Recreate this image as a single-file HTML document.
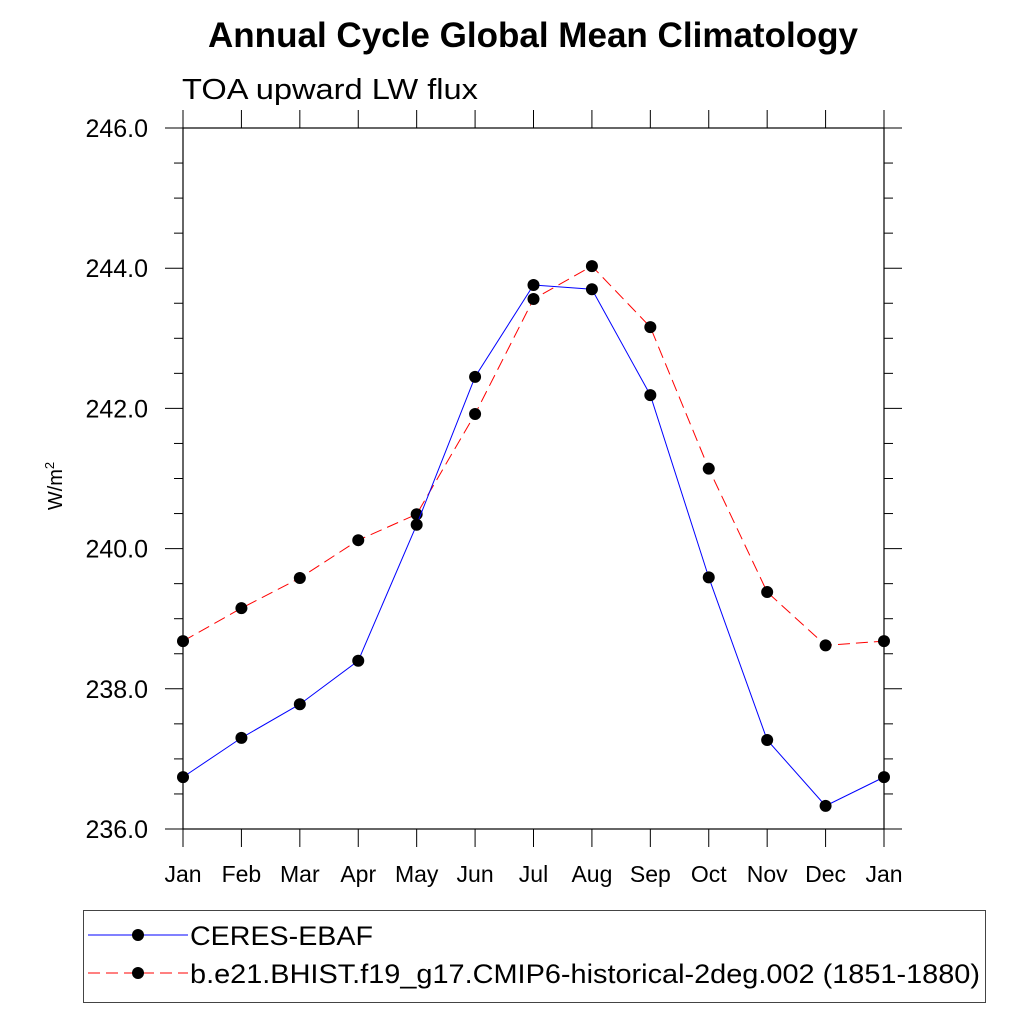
<!DOCTYPE html>
<html><head><meta charset="utf-8"><style>
body{margin:0;background:#fff}
svg{display:block;font-family:"Liberation Sans",sans-serif}
</style></head><body>
<svg id="chart" width="1024" height="1024" viewBox="0 0 1024 1024">
<text x="208" y="47" font-size="35" font-weight="bold" textLength="650" lengthAdjust="spacingAndGlyphs">Annual Cycle Global Mean Climatology</text>
<text x="182" y="99" font-size="29" textLength="296" lengthAdjust="spacingAndGlyphs">TOA upward LW flux</text>
<text transform="translate(62,486) rotate(-90)" text-anchor="middle" font-size="20">W/m<tspan font-size="13" dy="-8">2</tspan></text>
<g id="axes"></g>
<g id="series"></g>
<g>
<rect x="83.5" y="910.5" width="902" height="92" fill="none" stroke="#444" stroke-width="1"/>
<line x1="88" y1="935" x2="188" y2="935" stroke="#00f" stroke-width="1"/>
<circle cx="138" cy="935" r="6" fill="#000"/>
<text x="190" y="945" font-size="27" textLength="183" lengthAdjust="spacingAndGlyphs">CERES-EBAF</text>
<line x1="88" y1="973" x2="188" y2="973" stroke="#f00" stroke-width="1" stroke-dasharray="12,6"/>
<circle cx="138" cy="973" r="6" fill="#000"/>
<text x="190" y="983" font-size="27" textLength="790" lengthAdjust="spacingAndGlyphs">b.e21.BHIST.f19_g17.CMIP6-historical-2deg.002 (1851-1880)</text>
</g>
</svg>
<script>
const months = ["Jan","Feb","Mar","Apr","May","Jun","Jul","Aug","Sep","Oct","Nov","Dec","Jan"];
const ceres = [236.74,237.30,237.78,238.40,240.34,242.45,243.76,243.70,242.19,239.59,237.27,236.33,236.74];
const model = [238.68,239.15,239.58,240.12,240.49,241.92,243.56,244.03,243.16,241.14,239.38,238.62,238.68];
const yTicks = [236,238,240,242,244,246];
const yTickLabels = ["236.0","238.0","240.0","242.0","244.0","246.0"];

const NS="http://www.w3.org/2000/svg";
const L=183,R=884,T=128,B=829,yMin=236,yMax=246;
const xS=i=>L+(R-L)*i/(months.length-1);
const yS=v=>B-(v-yMin)/(yMax-yMin)*(B-T);
function mk(tag,attrs,parent){const e=document.createElementNS(NS,tag);for(const k in attrs)e.setAttribute(k,attrs[k]);parent.appendChild(e);return e;}
const ax=document.getElementById('axes');
let fr=mk('rect',{x:L,y:T,width:R-L,height:B-T,fill:'none',stroke:'#000','stroke-width':1.2},ax);


months.forEach((m,i)=>{
  const x=xS(i);
  let t=mk('line',{x1:x,y1:B,x2:x,y2:B+18,stroke:'#000'},ax);
  
  
  let t2=mk('line',{x1:x,y1:T,x2:x,y2:T-18,stroke:'#000'},ax);
  
  
  let lb=mk('text',{x:x,y:882,'text-anchor':'middle','font-size':23},ax);
  lb.textContent=m;
  
  
});
for(let v=yMin;v<=yMax+1e-9;v+=0.5){
  const y=yS(v),major=Math.abs(v/2-Math.round(v/2))<1e-9,len=major?18:9;
  let a=mk('line',{x1:L,y1:y,x2:L-len,y2:y,stroke:'#000'},ax);
  
  
  let b=mk('line',{x1:R,y1:y,x2:R+len,y2:y,stroke:'#000'},ax);
  
  
}
yTicks.forEach((v,i)=>{
  let lb=mk('text',{x:148,y:yS(v)+9,'text-anchor':'end','font-size':25},ax);
  lb.textContent=yTickLabels[i];
  
  
});
const sg=document.getElementById('series');
function series(vals,color,dash,name){
  const pts=vals.map((v,i)=>xS(i)+','+yS(v)).join(' ');
  const attrs={points:pts,fill:'none',stroke:color,'stroke-width':1};
  if(dash)attrs['stroke-dasharray']=dash;
  let pl=mk('polyline',attrs,sg);
  
  
  vals.forEach((v,i)=>{
    let c=mk('circle',{cx:xS(i),cy:yS(v),r:6,fill:'#000'},sg);
    
    
  });
}
series(model,'#f00','12,6','model');
series(ceres,'#00f',null,'ceres');
</script>
</body></html>
